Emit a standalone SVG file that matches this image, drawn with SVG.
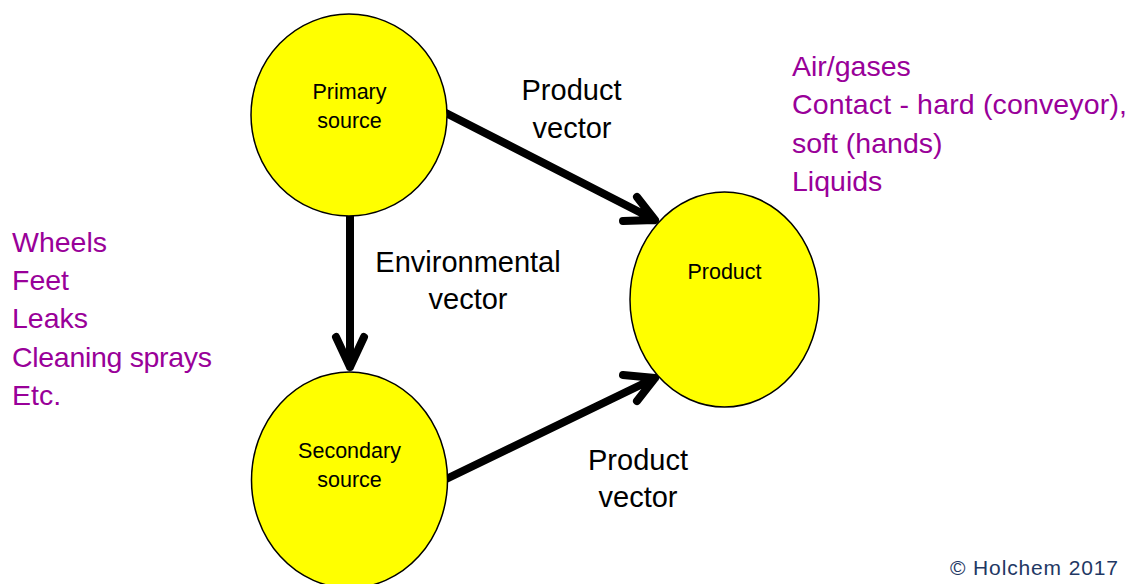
<svg xmlns="http://www.w3.org/2000/svg" width="1141" height="584" viewBox="0 0 1141 584">
  <style>
    .node { fill: #ffff00; stroke: #000000; stroke-width: 1.5; }
    .nlabel { font-family: "Liberation Sans", Arial, sans-serif; font-size: 21.5px; fill: #000000; text-anchor: middle; }
    .vlabel { font-family: "Liberation Sans", Arial, sans-serif; font-size: 29px; fill: #000000; text-anchor: middle; }
    .list { font-family: "Liberation Sans", Arial, sans-serif; font-size: 28.5px; fill: #990099; }
    .copy { font-family: "Liberation Sans", Arial, sans-serif; font-size: 21px; fill: #1f3864; }
    .edge { fill: none; stroke: #000000; stroke-width: 8; stroke-linecap: round; stroke-linejoin: round; }
  </style>
  <rect width="1141" height="584" fill="#ffffff"/>

  <!-- connectors: shaft plus open chevron head; shaft starts are hidden under the nodes -->
  <g id="connectors">
    <path class="edge" d="M440,110 L655,220 M637,197 L655,220 L623,221"/>
    <path class="edge" d="M350,210 L350,367 M336,337 L350,367 L364,337"/>
    <path class="edge" d="M440,482 L655,378 M623,375 L655,378 L637,401"/>
  </g>

  <g id="primary-source">
    <ellipse class="node" cx="349" cy="115" rx="98" ry="101"/>
    <text class="nlabel" x="349.5" y="99">Primary</text>
    <text class="nlabel" x="349.5" y="128">source</text>
  </g>

  <g id="secondary-source">
    <ellipse class="node" cx="349.5" cy="480" rx="98" ry="108"/>
    <text class="nlabel" x="349.5" y="458">Secondary</text>
    <text class="nlabel" x="349.5" y="487">source</text>
  </g>

  <g id="product">
    <ellipse class="node" cx="724.5" cy="299.5" rx="94.5" ry="107.5"/>
    <text class="nlabel" x="724.5" y="279">Product</text>
  </g>

  <g id="vector-labels">
    <text class="vlabel" x="571.5" y="100">Product</text>
    <text class="vlabel" x="572" y="138">vector</text>
    <text class="vlabel" x="468" y="272">Environmental</text>
    <text class="vlabel" x="468" y="309">vector</text>
    <text class="vlabel" x="638" y="470">Product</text>
    <text class="vlabel" x="638" y="507">vector</text>
  </g>

  <g id="product-vector-notes">
    <text class="list" x="792" y="76">Air/gases</text>
    <text class="list" x="792" y="114" textLength="335">Contact - hard (conveyor),</text>
    <text class="list" x="792" y="153">soft (hands)</text>
    <text class="list" x="792" y="191">Liquids</text>
  </g>

  <g id="environmental-vector-notes">
    <text class="list" x="12" y="252">Wheels</text>
    <text class="list" x="12" y="290">Feet</text>
    <text class="list" x="12" y="328">Leaks</text>
    <text class="list" x="12" y="367" textLength="200">Cleaning sprays</text>
    <text class="list" x="12" y="405">Etc.</text>
  </g>

  <text class="copy" x="950" y="575" textLength="168">© Holchem 2017</text>
</svg>
